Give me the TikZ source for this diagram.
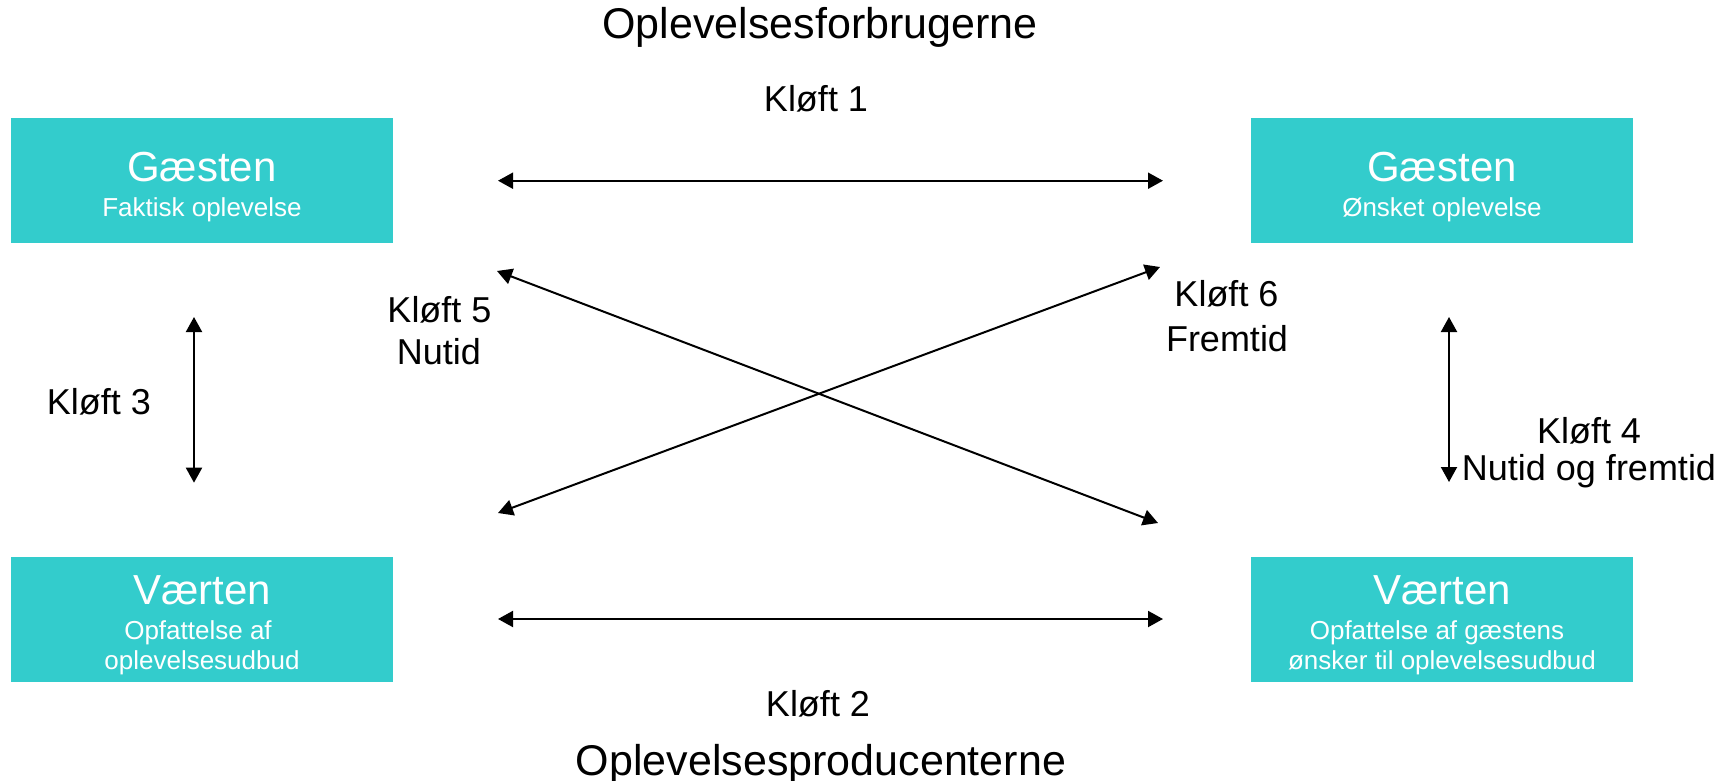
\documentclass[tikz,border=0pt]{standalone}
\usepackage{fontspec}
\setmainfont{Liberation Sans}
\usetikzlibrary{arrows.meta}
\definecolor{boxteal}{RGB}{51,204,204}

\begin{document}
\begin{tikzpicture}[x=1pt,y=-1pt,
  box/.style={rectangle, fill=boxteal, draw=none, inner sep=0pt,
              minimum width=382pt, minimum height=125pt},
  head/.style={text=white, font=\fontsize{42}{48}\selectfont, anchor=base, inner sep=0pt},
  sub/.style={text=white, font=\fontsize{26}{30}\selectfont, anchor=base, inner sep=0pt},
  gap/.style={font=\fontsize{36}{42}\selectfont, anchor=base, inner sep=0pt},
  title/.style={font=\fontsize{43}{50}\selectfont, anchor=base, inner sep=0pt},
  link/.style={line width=2pt,
               {Triangle[length=15pt,width=16pt]}-{Triangle[length=15pt,width=16pt]}}
]
\useasboundingbox (0,0) rectangle (1733,781);

% group titles
\node[title] (ttop) at (820,39) {Oplevelsesforbrugerne};
\node[title] (tbot) at (821,775) {Oplevelsesproducenterne};

% the four boxes
\node[box] (gl) at (202,180.5) {};
\node[box] (gr) at (1442,180.5) {};
\node[box] (vl) at (202,619) {};
\node[box] (vr) at (1442,619) {};

% box texts
\node[head] (gl1) at (202,181.7) {Gæsten};
\node[sub]  (gl2) at (202,216) {Faktisk oplevelse};
\node[head] (gr1) at (1442,181.7) {Gæsten};
\node[sub]  (gr2) at (1442,216) {Ønsket oplevelse};
\node[head] (vl1) at (202,604) {Værten};
\node[sub]  (vl2) at (198,639) {Opfattelse af};
\node[sub]  (vl3) at (202,669) {oplevelsesudbud};
\node[head] (vr1) at (1442,604) {Værten};
\node[sub]  (vr2) at (1437,639) {Opfattelse af gæstens};
\node[sub]  (vr3) at (1442,669) {ønsker til oplevelsesudbud};

% gap labels
\node[gap] (k1) at (816,111.7) {Kløft 1};
\node[gap] (k2) at (818,716) {Kløft 2};
\node[gap] (k3) at (99,414) {Kløft 3};
\node[gap] (k4a) at (1589,443.3) {Kløft 4};
\node[gap] (k4b) at (1589,480) {Nutid og fremtid};
\node[gap] (k5a) at (439.5,322.7) {Kløft 5};
\node[gap] (k5b) at (439,364) {Nutid};
\node[gap] (k6a) at (1226.5,306.7) {Kløft 6};
\node[gap] (k6b) at (1227,351.7) {Fremtid};

% arrow end points
\coordinate (t1) at (498,180.7);
\coordinate (t2) at (1163,180.7);
\coordinate (b1) at (498,619);
\coordinate (b2) at (1163,619);
\coordinate (l1) at (194,317);
\coordinate (l2) at (194,482.7);
\coordinate (r1) at (1449,317);
\coordinate (r2) at (1449,482);
\coordinate (d1a) at (497,271);
\coordinate (d1b) at (1158,523);
\coordinate (d2a) at (498,513);
\coordinate (d2b) at (1160,267);

% gaps
\draw[link] (t1) -- (t2);
\draw[link] (b1) -- (b2);
\draw[link] (l1) -- (l2);
\draw[link] (r1) -- (r2);
\draw[link] (d1a) -- (d1b);
\draw[link] (d2a) -- (d2b);
\end{tikzpicture}
\end{document}
